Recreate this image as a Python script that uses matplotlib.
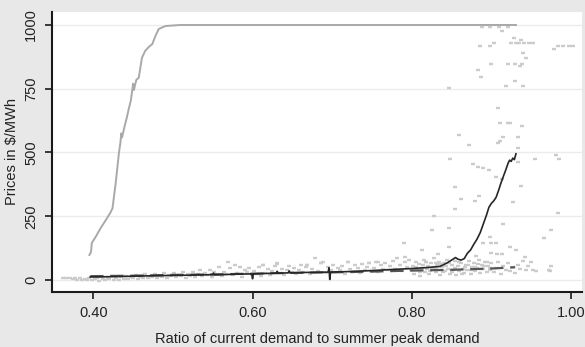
import matplotlib
matplotlib.use("Agg")
import matplotlib.pyplot as plt

plt.rcParams['font.family'] = ['Liberation Sans', 'DejaVu Sans']

# Upper gray line (max price)
max_x = [0.395, 0.397, 0.398, 0.403, 0.409, 0.415, 0.421, 0.424, 0.428, 0.432, 0.434, 0.435,
         0.436, 0.439, 0.442, 0.444, 0.447, 0.450, 0.451, 0.452, 0.454, 0.457, 0.461, 0.465,
         0.470, 0.474, 0.478, 0.482, 0.486, 0.491, 0.500, 0.509, 0.931]
max_y = [98, 110, 145, 170, 203, 232, 262, 281, 379, 496, 540, 575,
         559, 600, 637, 665, 703, 770, 745, 760, 785, 793, 871, 898,
         915, 925, 957, 984, 990, 996, 998, 1000, 1000]

# Black line (mean price)
mean_x = [0.396, 0.42, 0.45, 0.48, 0.50, 0.52, 0.55, 0.551, 0.552, 0.58, 0.599, 0.600, 0.601,
          0.62, 0.63, 0.631, 0.632, 0.645, 0.646, 0.647, 0.66, 0.67, 0.695, 0.696, 0.697, 0.698,
          0.72, 0.75, 0.78, 0.80, 0.82, 0.835, 0.84, 0.845, 0.85, 0.855, 0.858, 0.862, 0.866,
          0.87, 0.874, 0.878, 0.882, 0.886, 0.89, 0.894, 0.897, 0.900, 0.903, 0.906, 0.909,
          0.912, 0.915, 0.918, 0.921, 0.923, 0.925, 0.927, 0.929, 0.931]
mean_y = [12, 13, 15, 17, 18, 19, 21, 27, 20, 23, 24, 5, 24,
          26, 27, 34, 27, 28, 36, 28, 29, 30, 31, 48, 2, 31,
          33, 37, 42, 45, 49, 53, 60, 68, 78, 88, 82, 78, 84,
          105, 118, 140, 160, 185, 220, 255, 285, 300, 310, 324, 350,
          379, 405, 430, 457, 470, 465, 478, 472, 495]

# Dashed line (median / fitted)
med_x = [0.396, 0.45, 0.50, 0.55, 0.60, 0.65, 0.70, 0.75, 0.80, 0.85, 0.90, 0.93]
med_y = [15, 17, 20, 22, 25, 28, 30, 33, 37, 40, 45, 50]

# Scatter of observed prices
band_x = [0.362, 0.366, 0.370, 0.374, 0.377, 0.380, 0.383, 0.386, 0.389, 0.392, 0.395, 0.398,
          0.402, 0.405, 0.407, 0.410, 0.412, 0.415, 0.418, 0.420, 0.423, 0.426, 0.429, 0.432,
          0.435, 0.438, 0.441, 0.444, 0.447, 0.450, 0.453, 0.456, 0.459, 0.462, 0.465, 0.468,
          0.471, 0.474, 0.477, 0.480, 0.483, 0.486, 0.489, 0.492, 0.495, 0.498,
          0.501, 0.504, 0.507, 0.510, 0.513, 0.516, 0.519, 0.522, 0.525, 0.528, 0.531, 0.534,
          0.537, 0.540, 0.543, 0.546, 0.549, 0.552, 0.555, 0.558, 0.561, 0.564, 0.567, 0.569,
          0.572, 0.575, 0.578, 0.581, 0.584, 0.587, 0.590, 0.593, 0.596, 0.599,
          0.602, 0.605, 0.608, 0.611, 0.613, 0.616, 0.619, 0.622, 0.625, 0.628, 0.631, 0.634,
          0.637, 0.640, 0.643, 0.646, 0.649, 0.652, 0.655, 0.658, 0.661, 0.664, 0.667, 0.669,
          0.672, 0.675, 0.679, 0.682, 0.686, 0.689, 0.692, 0.695, 0.698,
          0.701, 0.704, 0.707, 0.710, 0.713, 0.716, 0.720, 0.723, 0.726, 0.729, 0.732, 0.735,
          0.738, 0.741, 0.744, 0.746, 0.749, 0.752, 0.755, 0.758, 0.761, 0.764, 0.767, 0.770,
          0.773, 0.776, 0.779, 0.782, 0.785, 0.788, 0.791, 0.794, 0.797, 0.799,
          0.801, 0.803, 0.805, 0.807, 0.809, 0.811, 0.813, 0.815, 0.817, 0.818, 0.820, 0.822,
          0.824, 0.826, 0.828, 0.830, 0.832, 0.834, 0.836, 0.838, 0.840, 0.842, 0.844, 0.846,
          0.848, 0.850, 0.852, 0.854, 0.856, 0.858, 0.860, 0.862, 0.864, 0.866, 0.868, 0.870,
          0.872, 0.874, 0.876, 0.878, 0.880, 0.882, 0.884, 0.886, 0.888, 0.890, 0.892, 0.894,
          0.896, 0.898, 0.900,
          0.802, 0.806, 0.810, 0.814, 0.819, 0.823, 0.827, 0.831, 0.835, 0.839, 0.843, 0.847,
          0.851, 0.855, 0.859, 0.863, 0.867, 0.871, 0.875, 0.879, 0.883, 0.887, 0.891, 0.895,
          0.899,
          0.903, 0.906, 0.909, 0.912, 0.915, 0.918, 0.921, 0.924, 0.927, 0.930, 0.933, 0.936,
          0.940, 0.944]
band_y = [9, 8, 7, 4, 9, 2, 6, 1, 5, 2, 6, 0,
          3, 8, -2, 12, 5, 0, 9, 4, 14, 2, 7, -1,
          10, 5, 16, 3, 11, 7, 19, 4, 13, 9, 22, 6,
          15, 10, 24, 8, 17, 12, 26, 9, 19, 14,
          28, 11, 20, 15, 30, 9, 22, 17, 33, 12, 24, 38,
          14, 27, 19, 41, 10, 30, 22, 51, 16, 33, 25, 70,
          48, 18, 58, 27, 52, 13, 39, 30, 47, 21,
          35, 24, 50, 17, 58, 29, 42, 20, 36, 53, 66, 27,
          45, 19, 38, 56, 30, 48, 22, 40, 60, 33, 51, 58,
          25, 44, 86, 36, 66, 70, 28, 52, 40,
          60, 30, 47, 38, 55, 25, 70, 42, 33, 58, 46, 28,
          62, 40, 52, 66, 35, 48, 70, 30, 57, 44, 65, 38,
          53, 75, 42, 86, 60, 34, 70, 50, 78, 40,
          55, 25, 70, 40, 62, 15, 48, 80, 33, 70, 55, 22,
          66, 42, 85, 30, 58, 72, 18, 50, 65, 35, 80, 45,
          25, 60, 40, 75, 20, 55, 35, 68, 45, 28, 58, 40,
          75, 22, 52, 65, 35, 48, 80, 28, 60, 42, 70, 30,
          55, 38, 65,
          38, 52, 30, 60, 45, 35, 52, 44, 62, 30, 55, 68,
          30, 48, 70, 25, 50, 60, 38, 50, 62, 45, 55, 72,
          48,
          30, 48, 72, 25, 55, 40, 68, 35, 50, 28, 60, 42,
          75, 38]

out_x = [0.888, 0.899, 0.910, 0.921, 0.914, 0.928, 0.937, 0.925, 0.931, 0.935, 0.941, 0.947,
         0.953, 0.886, 0.899, 0.903, 0.979, 0.984, 0.990, 0.998, 1.003, 0.940, 0.943, 0.900,
         0.921, 0.930, 0.936, 0.938, 0.883, 0.887, 0.930, 0.918, 0.940, 0.847, 0.908,
         0.911, 0.921, 0.923, 0.938, 0.860, 0.915, 0.933, 0.872, 0.908, 0.911, 0.933, 0.981,
         0.985, 0.955, 0.848, 0.933, 0.877, 0.883, 0.890, 0.897, 0.906, 0.913, 0.937, 0.854,
         0.884, 0.862, 0.879, 0.927, 0.854, 0.984, 0.828, 0.915, 0.826, 0.847, 0.975, 0.966,
         0.898, 0.889, 0.900, 0.906, 0.790, 0.847, 0.923, 0.813, 0.931, 0.914, 0.907, 0.900,
         0.833, 0.791, 0.881, 0.942, 0.950, 0.946, 0.956, 0.974, 0.975, 0.953, 0.973,
         0.613, 0.631, 0.669, 0.686, 0.720, 0.746, 0.758, 0.818, 0.830]
out_y = [993, 993, 993, 993, 977, 949, 941, 931, 931, 931, 931, 931,
         931, 918, 918, 931, 906, 918, 918, 918, 918, 890, 871, 848,
         848, 848, 840, 848, 824, 797, 781, 759, 759, 754, 676,
         617, 617, 617, 605, 570, 559, 559, 531, 539, 547, 516, 492,
         473, 476, 473, 461, 453, 445, 441, 430, 402, 398, 367, 363,
         328, 316, 309, 305, 277, 262, 250, 219, 195, 203, 195, 164,
         168, 145, 145, 145, 145, 129, 129, 117, 117, 102, 102, 105,
         102, 90, 94, 90, 70, 55, 35, 35, 55, 39, 39,
         58, 62, 58, 66, 70, 66, 70, 70, 66]

xticks = [0.40, 0.60, 0.80, 1.00]
xtick_labels = ['0.40', '0.60', '0.80', '1.00']
yticks = [0, 250, 500, 750, 1000]
ytick_labels = ['0', '250', '500', '750', '1000']

fig = plt.figure(figsize=(5.85, 3.47), dpi=100)
fig.patch.set_facecolor('#e8e8e8')
ax = fig.add_axes([0.0889, 0.1585, 0.906, 0.807])
ax.set_facecolor('white')

for yv in yticks:
    ax.axhline(yv, color='#ececec', lw=1.0, zorder=0)

mk = dict(marker='_', linestyle='none', color='#cbcbcb', markersize=3.5, mew=1.7)
ax.plot(band_x, band_y, zorder=2, **mk)
ax.plot(out_x, out_y, zorder=2, **mk)

ax.plot(max_x, max_y, color='#a9a9a9', lw=1.4, zorder=3)
ax.plot(med_x, med_y, color='#555555', lw=1.6, dashes=(6, 3), zorder=4)
ax.plot(mean_x, mean_y, color='#262626', lw=1.2, zorder=5)

ax.set_xlim(0.348, 1.014)
ax.set_ylim(-47, 1051)

ax.set_xticks(xticks)
ax.set_xticklabels(xtick_labels)
ax.set_yticks(yticks)
ax.set_yticklabels(ytick_labels, rotation=90, va='center')

for s in ['top', 'right']:
    ax.spines[s].set_visible(False)
for s in ['left', 'bottom']:
    ax.spines[s].set_linewidth(1.5)
    ax.spines[s].set_color('#1a1a1a')

ax.tick_params(axis='both', direction='out', length=5, width=1.2, color='#1a1a1a',
               labelsize=10.5, labelcolor='#222222', pad=5)

ax.set_xlabel('Ratio of current demand to summer peak demand', fontsize=10.5,
              color='#222222', labelpad=9)
ax.set_ylabel(r'Prices in \$/MWh', fontsize=10.5, color='#222222', labelpad=4)

fig.savefig('out.png', dpi=100, facecolor=fig.get_facecolor())
